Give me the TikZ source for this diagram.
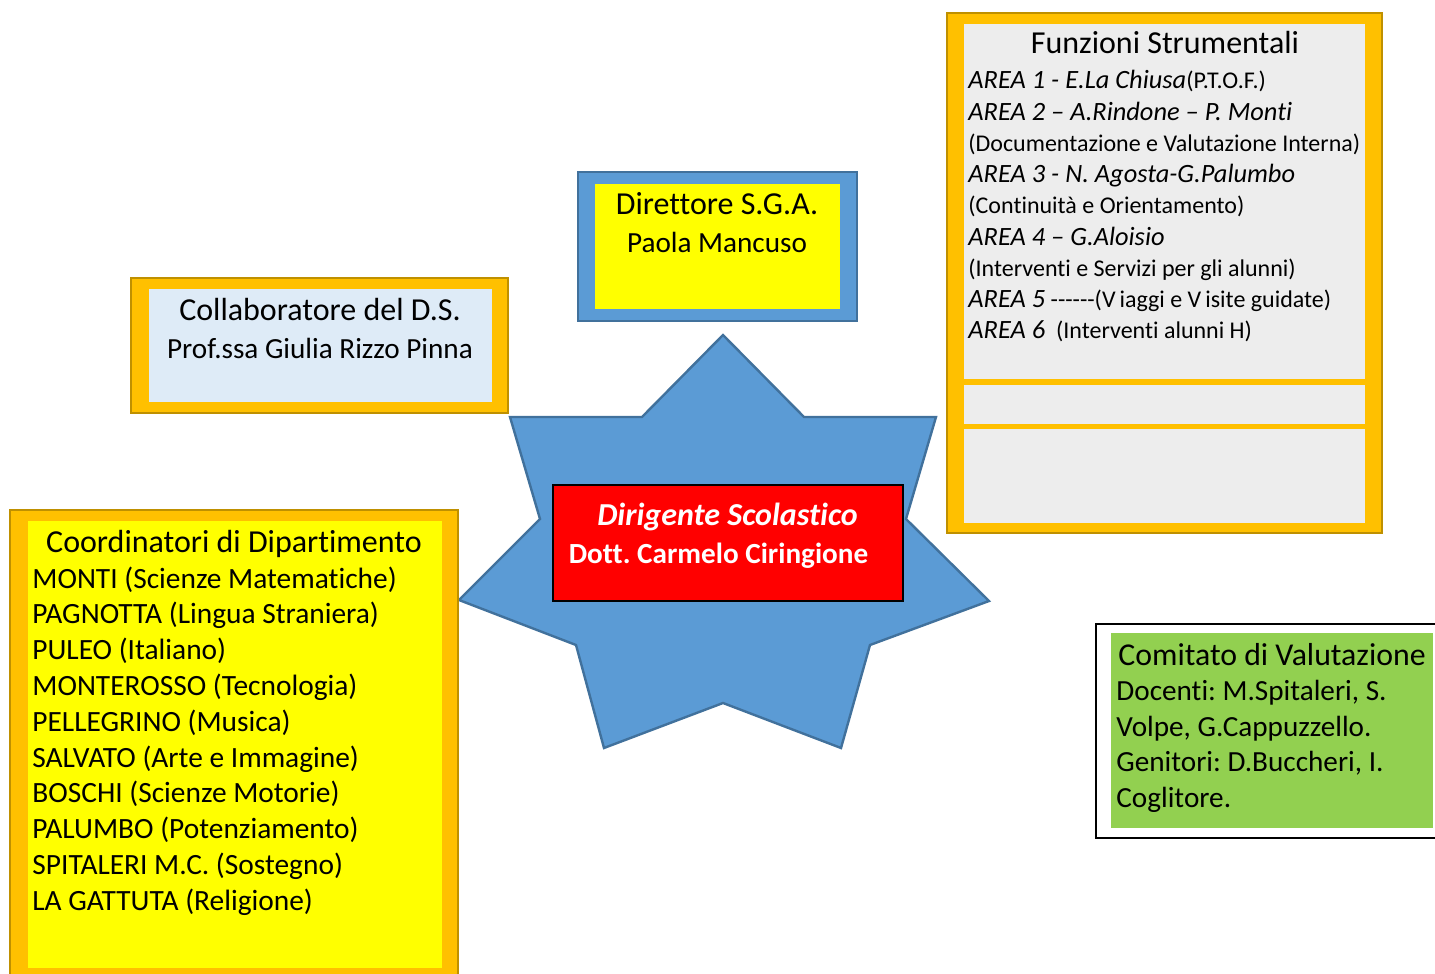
\documentclass[tikz,border=0pt]{standalone}
\usepackage{fontspec}
\setmainfont{Carlito}[Ligatures={TeX,NoCommon}]
\usepackage{tikz}
\usetikzlibrary{positioning}
\definecolor{goldframe}{HTML}{FFC000}
\definecolor{goldedge}{HTML}{BF9000}
\definecolor{starblue}{HTML}{5B9BD5}
\definecolor{staredge}{HTML}{41719C}
\definecolor{paleblue}{HTML}{DEEBF7}
\definecolor{palegrey}{HTML}{EDEDED}
\definecolor{leafgreen}{HTML}{92D050}
\definecolor{brightyellow}{RGB}{255,255,0}
\definecolor{brightred}{RGB}{255,0,0}
\newcommand{\areaname}[1]{{\fontsize{13.2}{15}\selectfont\itshape #1}}
\tikzset{
  goldbox/.style={fill=goldframe, draw=goldedge, line width=1.3pt},
  bluebox/.style={fill=starblue, draw=staredge, line width=1.3pt},
  headline/.style={font=\fontsize{16}{19}\selectfont, inner sep=0pt, anchor=base},
  subline/.style={font=\fontsize{14.6}{18}\selectfont, inner sep=0pt, anchor=base},
  listline/.style={font=\fontsize{14.7}{18}\selectfont, inner sep=0pt, anchor=base west},
  arealine/.style={font=\fontsize{12}{15}\selectfont, inner sep=0pt, anchor=base west},
}
\frenchspacing

\begin{document}
\begin{tikzpicture}[x=0.5pt, y=-0.5pt]
    \clip (0,0) rectangle (1435,974);

    % Dirigente Scolastico
    \draw[fill=starblue, draw=staredge, line width=1.2pt]
      (723,335) -- (804,417) -- (936,417) -- (906,519) -- (989,601) -- (870,645)
      -- (841,748) -- (723,703) -- (604,748) -- (576,645) -- (459,600) -- (540,519)
      -- (510,417) -- (642,417) -- cycle;
    \draw[fill=brightred, draw=black, line width=1.3pt] (553,485) rectangle (903,601);
    \node[headline, text=white] (ds) at (727.5,525) {\bfseries\itshape Dirigente Scolastico};
    \node[subline, text=white] (dsname) at (718.5,563) {\bfseries Dott. Carmelo Ciringione};

    % Direttore S.G.A.
    \draw[bluebox] (578,172) rectangle (857,321);
    \fill[brightyellow] (595,184) rectangle (840,309);
    \node[headline] (dsga) at (717,214) {Direttore S.G.A.};
    \node[subline] (dsganame) at (717,252) {Paola Mancuso};

    % Collaboratore
    \draw[goldbox] (131,278) rectangle (508,413);
    \fill[paleblue] (149,289) rectangle (492,402);
    \node[headline] (collab) at (320,320) {Collaboratore del D.S.};
    \node[subline] (collabname) at (320,358) {Prof.ssa Giulia Rizzo Pinna};

    % Funzioni Strumentali
    \draw[goldbox] (947,13) rectangle (1382,533);
    \fill[palegrey] (964,24) rectangle (1365,379);
    \fill[palegrey] (964,385) rectangle (1365,424);
    \fill[palegrey] (964,429) rectangle (1365,523);
    \node[headline] (fs) at (1165,54) {Funzioni Strumentali};
    \foreach \line [count=\i from 0] in {
        {\areaname{AREA 1 - E.La Chiusa}(P.T.O.F.)},
        {\areaname{AREA 2 – A.Rindone – P. Monti}},
        {(Documentazione e Valutazione Interna)},
        {\areaname{AREA 3 - N. Agosta-G.Palumbo}},
        {(Continuità e Orientamento)},
        {\areaname{AREA 4 – G.Aloisio}},
        {(Interventi e Servizi per gli alunni)},
        {\areaname{AREA 5} -{}-{}-{}-{}-{}-(V\,iaggi e V\,isite guidate)},
        {\areaname{AREA 6}\ \ (Interventi alunni H)}}
      \node[arealine] (area\i) at (968,89+31.2*\i) {\line};

    % Coordinatori di Dipartimento
    \draw[goldbox] (10,510) rectangle (458,990);
    \fill[brightyellow] (28,521) rectangle (442,968);
    \node[headline] (coord) at (234,552) {Coordinatori di Dipartimento};
    \foreach \line [count=\i from 0] in {
        MONTI (Scienze Matematiche), PAGNOTTA (Lingua Straniera),
        PULEO (Italiano), MONTEROSSO (Tecnologia), PELLEGRINO (Musica),
        SALVATO (Arte e Immagine), BOSCHI (Scienze Motorie),
        PALUMBO (Potenziamento), SPITALERI M.C. (Sostegno),
        LA GATTUTA (Religione)}
      \node[listline] (dip\i) at (32,588+35.8*\i) {\line};

    % Comitato di Valutazione
    \draw[fill=white, draw=black, line width=0.8pt] (1096,624) rectangle (1460,838);
    \fill[leafgreen] (1111,633) rectangle (1433,828);
    \node[listline, font=\fontsize{15.9}{18}\selectfont] (cv) at (1118,665) {Comitato di Valutazione};
    \foreach \line [count=\i from 1] in {
        {Docenti: M.Spitaleri, S.}, {Volpe, G.Cappuzzello.},
        {Genitori: D.Buccheri, I.}, {Coglitore.}}
      \node[listline, font=\fontsize{14.6}{18}\selectfont] (cv\i) at (1116,665+35.5*\i) {\line};
  \end{tikzpicture}
\end{document}
